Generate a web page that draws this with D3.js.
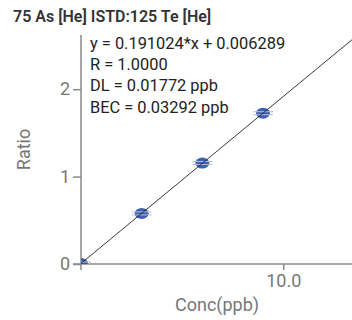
<!DOCTYPE html>
<html><head><meta charset="utf-8">
<script src="https://cdn.jsdelivr.net/npm/d3@7"></script>
<style>body{margin:0;background:#fff}svg{display:block;font-family:Roboto,"Noto Sans",sans-serif}</style>
</head><body><svg id="c" width="352" height="320"></svg>
<script>
const title = "75 As [He] ISTD:125 Te [He]";
const concs = [0, 3, 6, 9];
const ratios = [0.006, 0.579, 1.155, 1.725];
const slope = 0.191024, intercept = 0.006289;
const eqLines = ["y = 0.191024*x + 0.006289", "R = 1.0000", "DL = 0.01772 ppb", "BEC = 0.03292 ppb"];
const yTicks = [0, 1, 2];
const xTicks = [10];
const xDomain = [0, 13.4];
const yDomain = [0, 2.62];

(function(){
const svg = d3.select("#c");
const L = 81, R = 352, T = 35, B = 264;
const x = d3.scaleLinear().domain(xDomain).range([L, R]);
const y = d3.scaleLinear().domain(yDomain).range([B, T]);
const axisCol = "#8a8a8a", labCol = "#777";

svg.append("text").attr("x", 13).attr("y", 22).attr("font-size", 16).attr("font-weight", 600)
  .attr("fill", "#333").text(title);

const ya = svg.append("g").attr("transform", `translate(${L},0)`)
  .call(d3.axisLeft(y).tickValues(yTicks).tickFormat(d3.format("d")).tickSize(8).tickPadding(3));
ya.select(".domain").remove();
ya.append("line").attr("x1",0).attr("x2",0).attr("y1",T).attr("y2",B+6).attr("stroke",axisCol).attr("stroke-width",1.5);
ya.selectAll(".tick line").attr("stroke", axisCol).attr("stroke-width",1.5);
ya.selectAll(".tick text").attr("fill", labCol).attr("font-size", 18).attr("font-family","Roboto");

const xa = svg.append("g").attr("transform", `translate(0,${B})`)
  .call(d3.axisBottom(x).tickValues(xTicks).tickFormat(d3.format(".1f")).tickSize(6).tickPadding(4));
xa.select(".domain").remove();
xa.append("line").attr("x1",L-8).attr("x2",R).attr("y1",0).attr("y2",0).attr("stroke",axisCol).attr("stroke-width",1.5);
xa.selectAll(".tick line").attr("stroke", axisCol).attr("stroke-width",1.5);
xa.selectAll(".tick text").attr("fill", labCol).attr("font-size", 18).attr("font-family","Roboto");

svg.append("text").attr("transform", `translate(30,${(T+B)/2}) rotate(-90)`)
  .attr("text-anchor","middle").attr("font-size",18).attr("fill",labCol).text("Ratio");
svg.append("text").attr("x", 217).attr("y", 311).attr("text-anchor","middle")
  .attr("font-size",18).attr("fill",labCol).text("Conc(ppb)");

svg.append("clipPath").attr("id","pc").append("rect")
  .attr("x",L).attr("y",T).attr("width",R-L).attr("height",B-T);
const pts = svg.append("g").attr("clip-path","url(#pc)");
concs.forEach((c,i)=>{
  const cx = x(c), cy = y(ratios[i]);
  pts.append("ellipse").attr("cx",cx).attr("cy",cy).attr("rx",7).attr("ry",5.5).attr("fill","#3f5fb0");
  [-1.5,1.5].forEach(o=>{
    pts.append("line").attr("x1",cx-10).attr("x2",cx+10).attr("y1",cy+o).attr("y2",cy+o)
      .attr("stroke","#b8bfd0").attr("stroke-width",1);
  });
});

svg.append("line").attr("x1",x(0)).attr("y1",y(intercept))
  .attr("x2",x(xDomain[1])).attr("y2",y(slope*xDomain[1]+intercept)).attr("stroke","#222").attr("stroke-width",0.9);

eqLines.forEach((t,i)=>{
  svg.append("text").attr("x",90).attr("y",49+i*21.2).attr("font-size",16.4).attr("fill","#222").text(t);
});
})();
</script></body></html>
